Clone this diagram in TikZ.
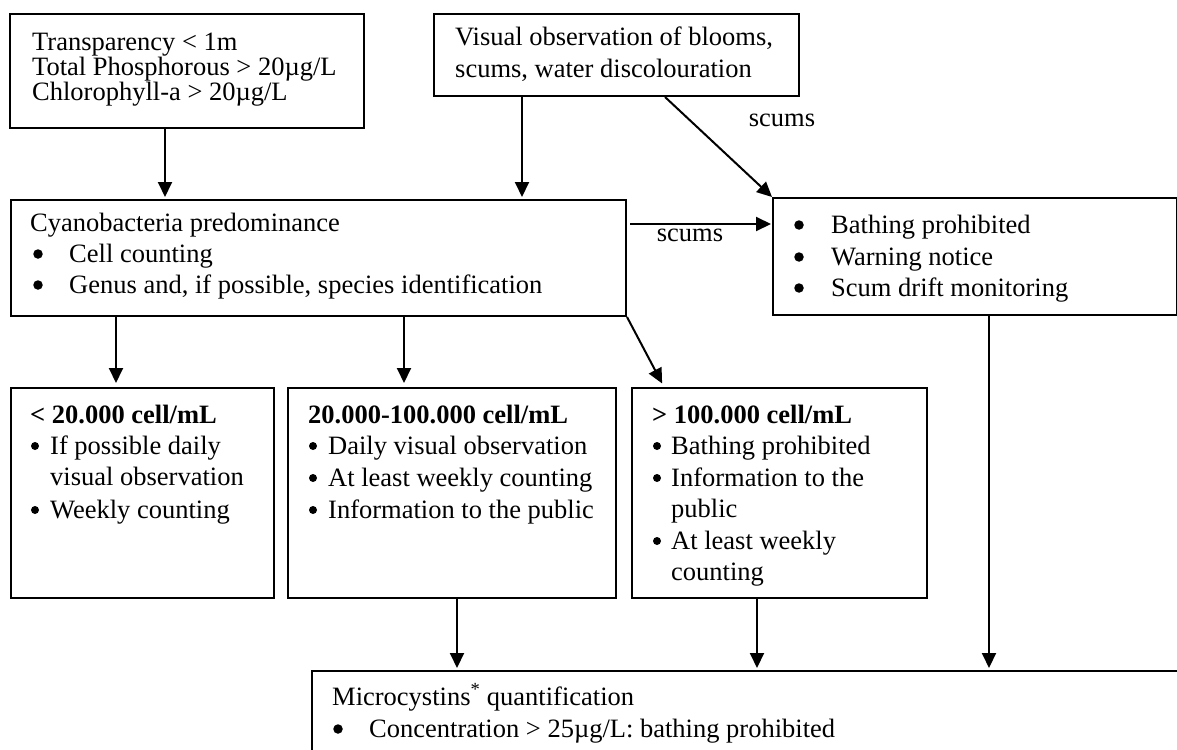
\documentclass[tikz,border=0pt]{standalone}
\usepackage{fontspec}
\setmainfont{Liberation Serif}
\usetikzlibrary{arrows.meta}
\begin{document}
\begin{tikzpicture}[x=1pt,y=-1pt,
  box/.style={draw, line width=2pt, inner sep=0pt, anchor=north west},
  txt/.style={anchor=base west, inner sep=0pt, font=\fontsize{26.5}{31}\selectfont},
  hdr/.style={txt, font=\fontsize{26.5}{31}\selectfont\bfseries},
  dot/.style={circle, fill, inner sep=0pt, minimum size=9.5pt},
  sdot/.style={circle, fill, inner sep=0pt, minimum size=8pt},
  lbl/.style={anchor=base, inner sep=0pt, font=\fontsize{26.5}{31}\selectfont},
  flow/.style={line width=2pt, -{Triangle[length=15pt,width=14pt]}, shorten >=2pt},
]
\useasboundingbox (0,0) rectangle (1177,749);
\clip (0,0) rectangle (1177,749);

% boxes
\node[box, minimum width=354pt, minimum height=114pt] (A) at (9,13) {};
\node[box, minimum width=365pt, minimum height=82pt]  (B) at (433,13) {};
\node[box, minimum width=615pt, minimum height=116pt] (C) at (10,199) {};
\node[box, minimum width=404pt, minimum height=117pt] (D) at (772,197) {};
\node[box, minimum width=263pt, minimum height=210pt] (E) at (10,387) {};
\node[box, minimum width=328pt, minimum height=210pt] (F) at (287,387) {};
\node[box, minimum width=295pt, minimum height=210pt] (G) at (631,387) {};
\node[box, minimum width=880pt, minimum height=130pt] (M) at (311,670) {};

% trigger parameters
\node[txt] (A1) at (32,51)  {Transparency < 1m};
\node[txt] (A2) at (32,76)  {Total Phosphorous > 20µg/L};
\node[txt] (A3) at (32,101) {Chlorophyll-a > 20µg/L};

% visual observation
\node[txt] (B1) at (455,46) {Visual observation of blooms,};
\node[txt] (B2) at (455,78) {scums, water discolouration};

% cyanobacteria predominance
\node[txt] (C1) at (30,231) {Cyanobacteria predominance};
\node[dot] (Cb2) at (38,254) {};
\node[txt] (C2) at (69,262) {Cell counting};
\node[dot] (Cb3) at (38,285) {};
\node[txt] (C3) at (69,293) {Genus and, if possible, species identification};

% scum measures
\node[dot] (Db1) at (799,225) {};
\node[txt] (D1) at (831,233) {Bathing prohibited};
\node[dot] (Db2) at (799,257) {};
\node[txt] (D2) at (831,265) {Warning notice};
\node[dot] (Db3) at (799,288) {};
\node[txt] (D3) at (831,296) {Scum drift monitoring};

% below 20.000 cell/mL
\node[hdr] (E0) at (30,423) {< 20.000 cell/mL};
\node[sdot] (Eb1) at (35,446) {};
\node[txt] (E1) at (50,454) {If possible daily};
\node[txt] (E2) at (50,485) {visual observation};
\node[sdot] (Eb3) at (35,510) {};
\node[txt] (E3) at (50,518) {Weekly counting};

% 20.000-100.000 cell/mL
\node[hdr] (F0) at (308,423) {20.000-100.000 cell/mL};
\node[sdot] (Fb1) at (313,446) {};
\node[txt] (F1) at (328,454) {Daily visual observation};
\node[sdot] (Fb2) at (313,478) {};
\node[txt] (F2) at (328,486) {At least weekly counting};
\node[sdot] (Fb3) at (313,510) {};
\node[txt] (F3) at (328,518) {Information to the public};

% above 100.000 cell/mL
\node[hdr] (G0) at (652,423) {> 100.000 cell/mL};
\node[sdot] (Gb1) at (657,446) {};
\node[txt] (G1) at (671,454) {Bathing prohibited};
\node[sdot] (Gb2) at (657,478) {};
\node[txt] (G2) at (671,486) {Information to the};
\node[txt] (G3) at (671,517) {public};
\node[sdot] (Gb4) at (657,541) {};
\node[txt] (G4) at (671,549) {At least weekly};
\node[txt] (G5) at (671,580) {counting};

% microcystins
\node[txt] (M1) at (332,705) {Microcystins\textsuperscript{*} quantification};
\node[dot] (Mb2) at (338,729) {};
\node[txt] (M2) at (369,737) {Concentration > 25µg/L: bathing prohibited};

% connectors
\draw[flow] (A.south -| 165,0) -- (C.north -| 165,0);
\draw[flow] (B.south -| 522,0) -- (C.north -| 522,0);
\draw[flow, shorten >=0pt] (B.south -| 665,0) -- (D.north west);
\node[lbl] (s1) at (782,127) {scums};
\draw[flow, shorten <=3pt, shorten >=1pt] (C.east |- 0,224) -- (D.west |- 0,224);
\node[lbl] (s2) at (690,241) {scums};
\draw[flow, shorten >=4pt] (C.south -| 116,0) -- (E.north -| 116,0);
\draw[flow, shorten >=4pt] (C.south -| 404,0) -- (F.north -| 404,0);
\draw[flow, shorten >=4pt] (C.south east) -- (G.north -| 664,0);
\draw[flow] (F.south -| 457,0) -- (M.north -| 457,0);
\draw[flow] (G.south -| 757,0) -- (M.north -| 757,0);
\draw[flow] (D.south -| 989,0) -- (M.north -| 989,0);
\end{tikzpicture}
\end{document}
